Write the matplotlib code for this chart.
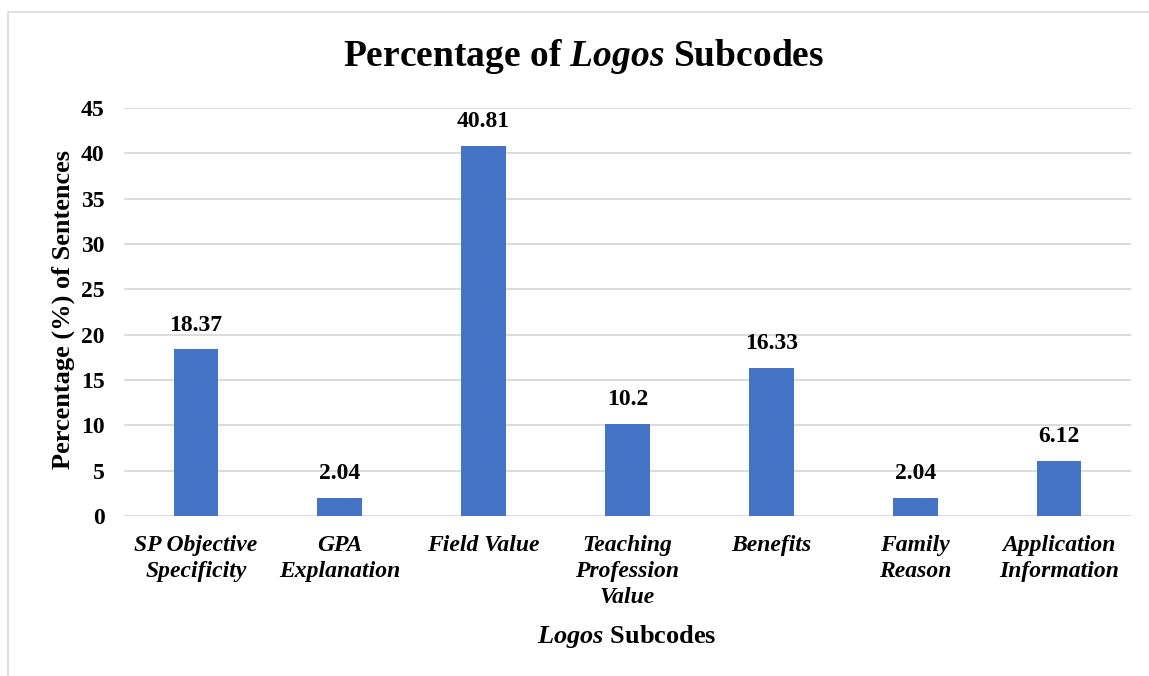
import matplotlib.pyplot as plt
from matplotlib.patches import Rectangle

categories = ['SP Objective\nSpecificity', 'GPA\nExplanation', 'Field Value',
              'Teaching\nProfession\nValue', 'Benefits', 'Family\nReason',
              'Application\nInformation']
values = [18.37, 2.04, 40.81, 10.2, 16.33, 2.04, 6.12]
value_labels = ['18.37', '2.04', '40.81', '10.2', '16.33', '2.04', '6.12']
yticks = [0, 5, 10, 15, 20, 25, 30, 35, 40, 45]

plt.rcParams['font.family'] = ['Liberation Serif', 'DejaVu Serif']
plt.rcParams['mathtext.fontset'] = 'custom'
plt.rcParams['mathtext.bfit'] = 'Liberation Serif:bold:italic'
plt.rcParams['mathtext.it'] = 'Liberation Serif:italic'
plt.rcParams['mathtext.rm'] = 'Liberation Serif'

fig = plt.figure(figsize=(11.49, 6.76), dpi=100)
W, H = 1149, 676

# chart frame
fig.patches.append(Rectangle((8 / W, -0.1), 1.2, 1 - 12 / H + 0.1,
                             transform=fig.transFigure, fill=False,
                             edgecolor='#d9d9d9', linewidth=1.2))

ax = fig.add_axes([124 / W, 1 - 516 / H, (1131 - 124) / W, (516 - 108) / H])
x = range(len(categories))
bars = ax.bar(x, values, width=0.31, color='#4472c4', zorder=3)

for b, lab in zip(bars, value_labels):
    ax.annotate(lab, (b.get_x() + b.get_width() / 2, b.get_height()),
                xytext=(0, 10), textcoords='offset points', ha='center',
                va='bottom', fontsize=17, fontweight='bold')

ax.set_xlim(-0.5, len(categories) - 0.5)
ax.set_ylim(0, 45)
ax.set_yticks(yticks)
ax.set_yticklabels([str(t) for t in yticks], fontsize=17, fontweight='bold')
ax.set_xticks(list(x))
ax.set_xticklabels(categories, fontsize=17, fontweight='bold', style='italic',
                   linespacing=1.3, va='top')
ax.tick_params(length=0, axis='both')
ax.tick_params(axis='y', pad=14)
ax.tick_params(axis='x', pad=14)
ax.grid(axis='y', color='#d9d9d9', linewidth=1.3, zorder=0)
for s in ax.spines.values():
    s.set_visible(False)

ax.set_ylabel('Percentage (%) of Sentences', fontsize=19, fontweight='bold')
ax.yaxis.set_label_coords(-0.0487, 0.505)

fig.text(584 / W, 1 - 57 / H, r'Percentage of $\mathbfit{Logos}$ Subcodes',
         ha='center', va='center', fontsize=27, fontweight='bold')
fig.text(627 / W, 1 - 636 / H, r'$\mathbfit{Logos}$ Subcodes',
         ha='center', va='center', fontsize=19, fontweight='bold')

fig.savefig('out.png', dpi=100)
